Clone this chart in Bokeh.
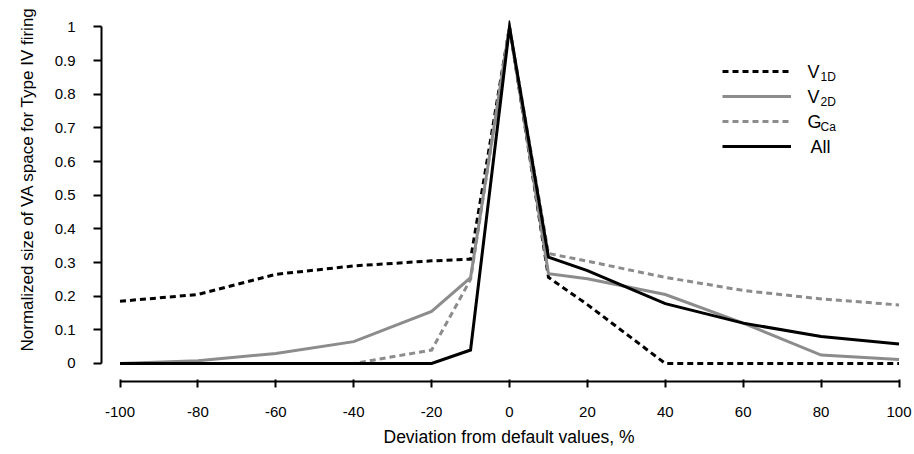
from bokeh.plotting import figure
from bokeh.models import Range1d, FixedTicker, Legend, LegendItem, Label, Title
from bokeh.embed import file_html
from bokeh.resources import INLINE

# ---- data ----
deviation = [-100, -80, -60, -40, -20, -10, 0, 10, 20, 40, 60, 80, 100]
v1d = [0.185, 0.205, 0.265, 0.29, 0.305, 0.31, 1.0, 0.256, 0.175, 0.0, 0.0, 0.0, 0.0]
v2d = [0.0, 0.008, 0.03, 0.065, 0.155, 0.255, 1.0, 0.267, 0.252, 0.205, 0.12, 0.025, 0.012]
gca = [0.0, 0.0, 0.0, 0.0, 0.04, 0.25, 1.0, 0.327, 0.304, 0.256, 0.217, 0.192, 0.174]
all_params = [0.0, 0.0, 0.0, 0.0, 0.0, 0.04, 1.0, 0.316, 0.276, 0.178, 0.12, 0.08, 0.058]

x_ticks = [-100, -80, -60, -40, -20, 0, 20, 40, 60, 80, 100]
x_tick_labels = ["-100", "-80", "-60", "-40", "-20", "0", "20", "40", "60", "80", "100"]
y_ticks = [0, 0.1, 0.2, 0.3, 0.4, 0.5, 0.6, 0.7, 0.8, 0.9, 1]
y_tick_labels = ["0", "0.1", "0.2", "0.3", "0.4", "0.5", "0.6", "0.7", "0.8", "0.9", "1"]

legend_main = ["V", "V", "G", "All"]
legend_sub = ["1D", "2D", "Ca", ""]

x_title = "Deviation from default values, %"
y_title = "Normalized size of VA space for Type IV firing"

# ---- layout (canvas pixels) ----
W, H = 914, 454
FL, FR, FT, FB = 101, 900, 20, 381   # frame edges
FONT = "Liberation Sans"

p = figure(width=W, height=H,
           x_range=Range1d(-104.75, 100.38), y_range=Range1d(-0.0535, 1.0193),
           output_backend="svg", toolbar_location=None,
           min_border_left=FL, min_border_right=W - FR, min_border_top=FT,
           min_border_bottom=H - FB)
p.grid.visible = False
p.outline_line_color = None
p.background_fill_color = "white"
p.border_fill_color = "white"

styles = [
    dict(y=v1d, color="black", dash="6 4", width=3),
    dict(y=v2d, color="#8c8c8c", dash="solid", width=3),
    dict(y=gca, color="#8c8c8c", dash="6 4", width=3),
    dict(y=all_params, color="black", dash="solid", width=3),
]
renderers = []
for s in styles:
    r = p.line(deviation, s["y"], line_color=s["color"], line_dash=s["dash"],
               line_width=s["width"], line_join="miter")
    renderers.append(r)

# axes
xa = p.xaxis[0]
xa.bounds = (-100, 100)
xa.ticker = FixedTicker(ticks=x_ticks)
xa.major_label_overrides = {t: l for t, l in zip(x_ticks, x_tick_labels)}
xa.minor_tick_line_color = None
xa.major_tick_in = 2
xa.major_tick_out = 6
xa.axis_line_width = 2
xa.major_tick_line_width = 2
xa.major_label_text_font = FONT
xa.major_label_text_font_size = "15px"
xa.major_label_text_color = "black"
xa.major_label_standoff = 19

ya = p.yaxis[0]
ya.bounds = (0, 1)
ya.ticker = FixedTicker(ticks=y_ticks)
ya.major_label_overrides = {t: l for t, l in zip(y_ticks, y_tick_labels)}
ya.minor_tick_line_color = None
ya.major_tick_in = 0
ya.major_tick_out = 8
ya.axis_line_width = 2
ya.major_tick_line_width = 2
ya.major_label_text_font = FONT
ya.major_label_text_font_size = "15px"
ya.major_label_text_color = "black"
ya.major_label_standoff = 18

# axis titles as side titles; left-aligned so that offset positions them along the axis
p.add_layout(Title(text=y_title, align="left", offset=30, standoff=30,
                   text_font=FONT, text_font_size="17px", text_font_style="normal",
                   text_color="black"), "left")
p.add_layout(Title(text=x_title, align="left", offset=282, standoff=10,
                   text_font=FONT, text_font_size="17.5px", text_font_style="normal",
                   text_color="black"), "below")

# legend: sample lines via Legend, texts (with subscripts) via Labels
items = [LegendItem(label=" ", renderers=[r]) for r in renderers]
legend = Legend(items=items, location=(722 - FL, FB - 156), orientation="vertical",
                glyph_width=69, glyph_height=20, label_height=20, label_width=1,
                spacing=5, padding=0, margin=0, label_standoff=0,
                border_line_color=None, background_fill_alpha=0)
p.add_layout(legend, "center")

row_y = [71, 96, 121, 146]  # canvas px row centres
for i, (m, s) in enumerate(zip(legend_main, legend_sub)):
    x0 = 807 if s else 810
    p.add_layout(Label(x=x0 - FL, y=FB - row_y[i], x_units="screen", y_units="screen",
                       text=m, text_font=FONT, text_font_size="18px",
                       text_baseline="middle", text_align="left", text_color="black"))
    if s:
        p.add_layout(Label(x=x0 - FL + 13, y=FB - row_y[i] - 5, x_units="screen", y_units="screen",
                           text=s, text_font=FONT, text_font_size="12px",
                           text_baseline="middle", text_align="left", text_color="black"))

open("out.html", "w").write(file_html(p, INLINE))
